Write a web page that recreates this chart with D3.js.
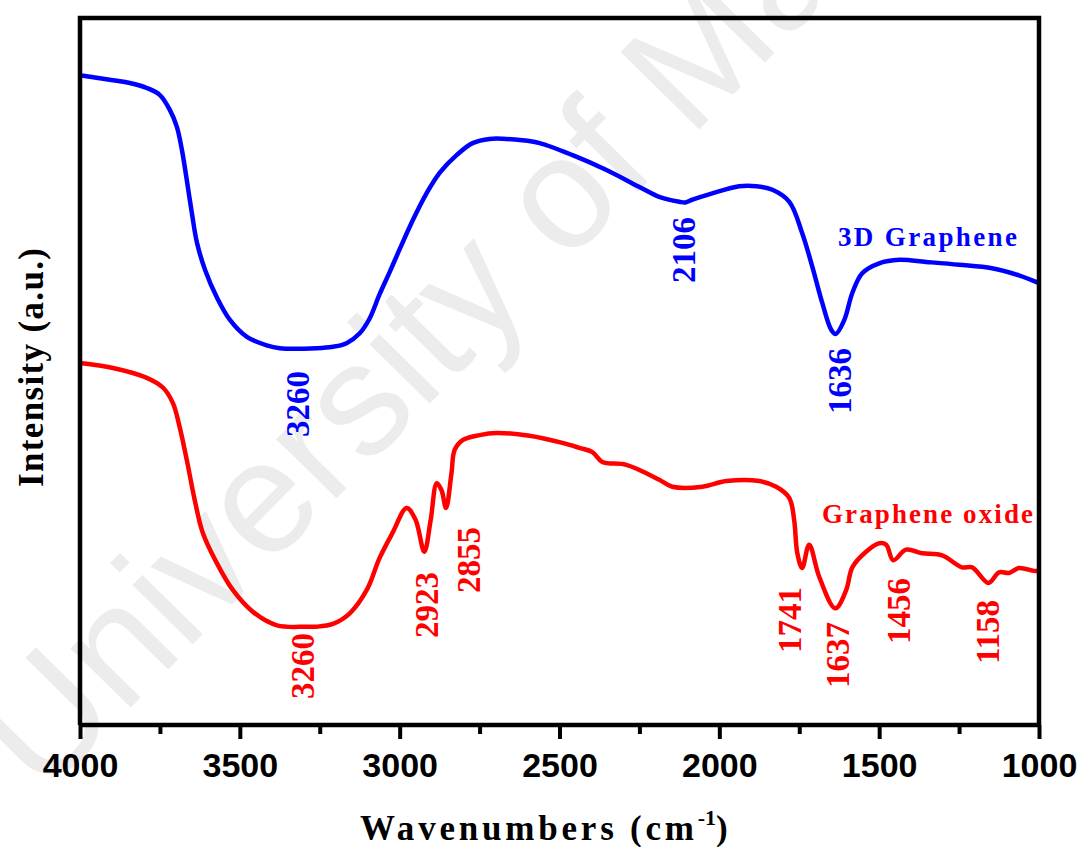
<!DOCTYPE html>
<html>
<head>
<meta charset="utf-8">
<script src="https://cdn.jsdelivr.net/npm/d3@7"></script>
<style>
  html, body { margin: 0; padding: 0; background: #fff; }
  svg { display: block; }
</style>
</head>
<body>
<svg id="chart" width="1080" height="847"></svg>
<script>
// FTIR spectra: wavenumber (cm^-1) and relative transmittance (a.u.)
const grapheneWn = [4000,3897,3844,3791,3750,3719,3697,3681,3666,3650,3634,3609,3572,3531,3478,3416,3375,3260,3209,3166,3125,3094,3063,3031,3000,2959,2916,2875,2822,2772,2719,2616,2562,2459,2353,2250,2188,2125,2106,2084,2022,1938,1884,1834,1781,1741,1709,1678,1650,1636,1609,1584,1553,1500,1437,1353,1250,1147,1063,1000];
const grapheneI  = [91.9,91.2,90.8,90.1,89.1,87.0,84.6,81.3,77.1,72.4,68.2,64.4,60.5,57.3,54.9,53.7,53.3,53.3,53.5,54.0,55.4,57.5,60.9,64.1,67.3,71.4,75.2,78.1,80.6,82.3,82.9,82.7,82.3,80.6,78.5,76.1,74.7,74.0,73.9,74.3,75.2,76.2,76.2,75.7,74.0,69.6,64.8,59.7,55.9,55.3,57.3,61.1,63.9,65.3,65.8,65.5,65.1,64.6,63.6,62.5];

const oxideWn = [4000,3897,3791,3740,3709,3688,3666,3641,3616,3572,3522,3459,3384,3291,3260,3209,3156,3103,3063,3022,2978,2950,2923,2903,2884,2869,2855,2838,2828,2803,2750,2697,2594,2491,2438,2397,2366,2291,2188,2147,2053,1978,1875,1822,1781,1766,1756,1741,1719,1687,1637,1603,1584,1541,1500,1478,1456,1416,1366,1303,1241,1209,1158,1125,1094,1063,1016,1000];
const oxideI  = [51.2,50.5,49.1,47.7,45.5,42.1,37.5,31.8,27.2,22.9,19.1,16.0,14.1,13.9,13.9,14.3,15.8,19.1,23.6,27.2,30.7,29.0,24.5,29.0,34.2,33.2,30.7,35.6,38.9,40.3,41.0,41.3,40.9,39.9,39.2,38.6,37.2,36.8,34.7,33.7,33.7,34.5,34.5,33.7,32.1,29.0,24.3,22.2,25.5,20.9,16.5,19.1,22.3,24.5,25.7,25.5,23.3,24.8,24.3,24.0,22.3,22.3,20.1,21.6,21.5,22.2,21.8,21.8];

// assigned bands with label placement (horizontal nudge in px, vertical centre in px)
const grapheneBands = [3260, 2106, 1636];
const grapheneLabelDx = [-19, -1, 4];
const grapheneLabelY = [404, 250, 381];
const oxideBands = [3260, 2923, 2855, 1741, 1637, 1456, 1158];
const oxideLabelDx = [-14, 3, 23, -12, 3, 6, 0];
const oxideLabelY = [666, 605, 560, 620, 655, 611, 632];

const xTicks = [4000, 3500, 3000, 2500, 2000, 1500, 1000];
const xMinorTicks = [3750, 3250, 2750, 2250, 1750, 1250];

const svg = d3.select("#chart");
const plotL = 80, plotR = 1039, plotT = 18, plotB = 725;

const x = d3.scaleLinear().domain([4000, 1000]).range([plotL, plotR]);
const y = d3.scaleLinear().domain([0, 100]).range([plotB, plotT]);

const serif = "'Liberation Serif', 'Times New Roman', serif";
const sans = "'Liberation Sans', Arial, sans-serif";

// faint watermark behind the plot
svg.append("text")
  .attr("transform", "translate(42,798) rotate(-45.5)")
  .attr("font-family", sans)
  .attr("font-size", 160)
  .attr("fill", "#ececec")
  .text("University of Malaya");

// spectra
const line = (wn, iv) => d3.line()
  .x((d, i) => x(wn[i]))
  .y((d, i) => y(iv[i]))
  .curve(d3.curveCatmullRom.alpha(0.5))(wn);

svg.append("path")
  .attr("d", line(grapheneWn, grapheneI))
  .attr("fill", "none").attr("stroke", "#0000ff")
  .attr("stroke-width", 4.5).attr("stroke-linejoin", "round");

svg.append("path")
  .attr("d", line(oxideWn, oxideI))
  .attr("fill", "none").attr("stroke", "#ff0000")
  .attr("stroke-width", 4.5).attr("stroke-linejoin", "round");

// frame: left, top, right
svg.append("path")
  .attr("d", `M${plotL},${plotB} V${plotT} H${plotR} V${plotB}`)
  .attr("fill", "none").attr("stroke", "#000").attr("stroke-width", 4.5);

// bottom axis
const xAxis = d3.axisBottom(x).tickValues(xTicks).tickSize(14).tickPadding(14).tickFormat(d3.format("d"));
const gx = svg.append("g").attr("transform", `translate(0,${plotB})`).call(xAxis);
gx.select(".domain").attr("stroke-width", 4.5).attr("d", `M${plotL},0H${plotR}`);
gx.selectAll(".tick line").attr("stroke-width", 4);
gx.selectAll(".tick text")
  .attr("font-family", sans).attr("font-weight", "bold")
  .attr("font-size", 34).attr("fill", "#000");

const xMinor = d3.axisBottom(x).tickValues(xMinorTicks).tickSize(9).tickFormat("");
const gm = svg.append("g").attr("transform", `translate(0,${plotB})`).call(xMinor);
gm.select(".domain").remove();
gm.selectAll(".tick line").attr("stroke-width", 4);

// axis titles
const xt = svg.append("text")
  .attr("x", 360).attr("y", 840)
  .attr("font-family", serif).attr("font-weight", "bold")
  .attr("font-size", 35);
xt.append("tspan").attr("textLength", 334).attr("lengthAdjust", "spacing").text("Wavenumbers (cm");
xt.append("tspan").attr("dy", -15).attr("font-size", 22).text("-1");
xt.append("tspan").attr("dy", 15).text(")");

svg.append("text")
  .attr("transform", "translate(43,487) rotate(-90)")
  .attr("font-family", serif).attr("font-weight", "bold")
  .attr("font-size", 35)
  .attr("textLength", 239).attr("lengthAdjust", "spacing")
  .text("Intensity (a.u.)");

// band annotations (rotated), positioned by wavenumber
function bandLabels(bands, dx, cy, color) {
  svg.selectAll(null).data(bands).enter().append("text")
    .attr("transform", (d, i) => `translate(${x(d) + dx[i] + 11},${cy[i]}) rotate(-90)`)
    .attr("text-anchor", "middle")
    .attr("font-family", serif).attr("font-weight", "bold")
    .attr("font-size", 33).attr("fill", color)
    .text(d => d);
}
bandLabels(grapheneBands, grapheneLabelDx, grapheneLabelY, "#0000ff");
bandLabels(oxideBands, oxideLabelDx, oxideLabelY, "#ff0000");

// series names
svg.append("text")
  .attr("x", 838).attr("y", 246)
  .attr("font-family", serif).attr("font-weight", "bold")
  .attr("font-size", 27).attr("fill", "#0000ff")
  .attr("textLength", 179).attr("lengthAdjust", "spacing")
  .text("3D Graphene");

svg.append("text")
  .attr("x", 822).attr("y", 523)
  .attr("font-family", serif).attr("font-weight", "bold")
  .attr("font-size", 27).attr("fill", "#ff0000")
  .attr("textLength", 211).attr("lengthAdjust", "spacing")
  .text("Graphene oxide");
</script>
</body>
</html>
